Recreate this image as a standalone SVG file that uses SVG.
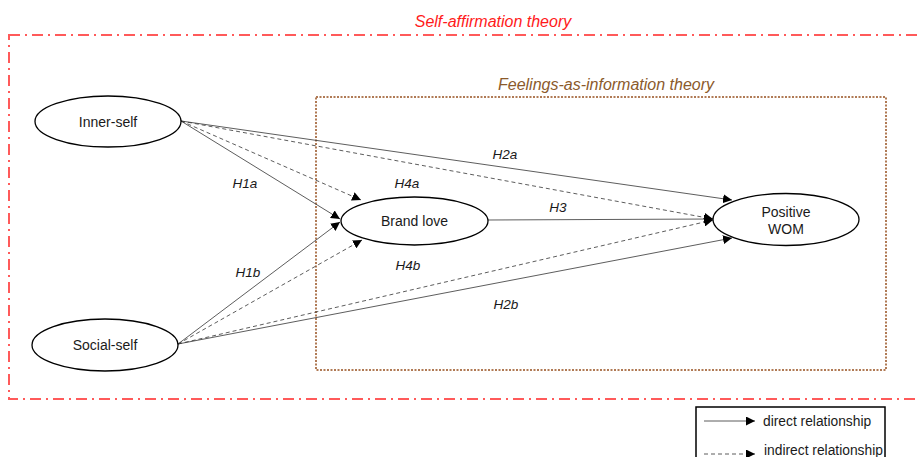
<svg xmlns="http://www.w3.org/2000/svg" width="917" height="457" viewBox="0 0 917 457">
<style>
text{font-family:"Liberation Sans",Arial,sans-serif;fill:#1a1a1a}
.node{fill:#fff;stroke:#000;stroke-width:1.3}
.lbl{font-size:14px;text-anchor:middle}
.h{font-size:13.5px;font-style:italic;text-anchor:middle}
.c{fill:none;stroke:#333;stroke-width:0.8}
.d{stroke-dasharray:4,3}
</style>
<defs>
<marker id="ah" viewBox="0 0 10 10" refX="10" refY="5" markerWidth="9" markerHeight="9" markerUnits="userSpaceOnUse" orient="auto">
<path d="M0,0 L10,5 L0,10 z" fill="#000"/>
</marker>
</defs>
<g id="frames">
<rect x="9" y="35" width="915" height="364" fill="none" stroke="#ff5a5a" stroke-width="2" stroke-dasharray="11,5,2,5"/>
<text x="493" y="27" font-size="16" font-style="italic" text-anchor="middle" style="fill:#ff1a1a">Self-affirmation theory</text>
<rect x="316" y="97" width="570" height="273" fill="none" stroke="#b07a55" stroke-width="2" stroke-dasharray="2,1.5"/>
<text x="606" y="90" font-size="16" font-style="italic" text-anchor="middle" style="fill:#8b5a2b">Feelings-as-information theory</text>
</g>
<g id="connectors">
<line class="c" x1="181" y1="121" x2="340" y2="219" marker-end="url(#ah)"/>
<line class="c d" x1="181" y1="121" x2="361" y2="200" marker-end="url(#ah)"/>
<line class="c" x1="181" y1="121" x2="732" y2="200" marker-end="url(#ah)"/>
<line class="c d" x1="181" y1="121" x2="713" y2="219" marker-end="url(#ah)"/>
<line class="c" x1="178" y1="344" x2="340" y2="222" marker-end="url(#ah)"/>
<line class="c d" x1="178" y1="344" x2="362" y2="240" marker-end="url(#ah)"/>
<line class="c d" x1="178" y1="344" x2="713" y2="220" marker-end="url(#ah)"/>
<line class="c" x1="178" y1="344" x2="732" y2="238" marker-end="url(#ah)"/>
<line class="c" x1="488" y1="220" x2="713" y2="219" marker-end="url(#ah)"/>
<text class="h" x="245" y="188">H1a</text>
<text class="h" x="248" y="277">H1b</text>
<text class="h" x="407" y="188">H4a</text>
<text class="h" x="408" y="270">H4b</text>
<text class="h" x="558" y="212">H3</text>
<text class="h" x="505" y="159">H2a</text>
<text class="h" x="506" y="309">H2b</text>
</g>
<g id="inner-self">
<ellipse class="node" cx="108" cy="121.5" rx="73" ry="25.5"/>
<text class="lbl" x="108" y="126.5">Inner-self</text>
</g>
<g id="social-self">
<ellipse class="node" cx="105" cy="345" rx="73" ry="26"/>
<text class="lbl" x="105" y="350">Social-self</text>
</g>
<g id="brand-love">
<ellipse class="node" cx="414.5" cy="221" rx="73.5" ry="24"/>
<text class="lbl" x="414.5" y="226">Brand love</text>
</g>
<g id="positive-wom">
<ellipse class="node" cx="786" cy="219.5" rx="73" ry="26"/>
<text class="lbl" x="786" y="217">Positive</text>
<text class="lbl" x="786" y="234">WOM</text>
</g>
<g id="legend">
<rect x="696" y="407" width="189" height="60" fill="#fff" stroke="#000" stroke-width="1.5"/>
<line class="c" x1="704" y1="421" x2="755" y2="421" marker-end="url(#ah)"/>
<text x="763" y="426" font-size="13.8">direct relationship</text>
<line class="c d" x1="704" y1="454" x2="755" y2="454" marker-end="url(#ah)"/>
<text x="764" y="455" font-size="13.8">indirect relationship</text>
</g>
</svg>
